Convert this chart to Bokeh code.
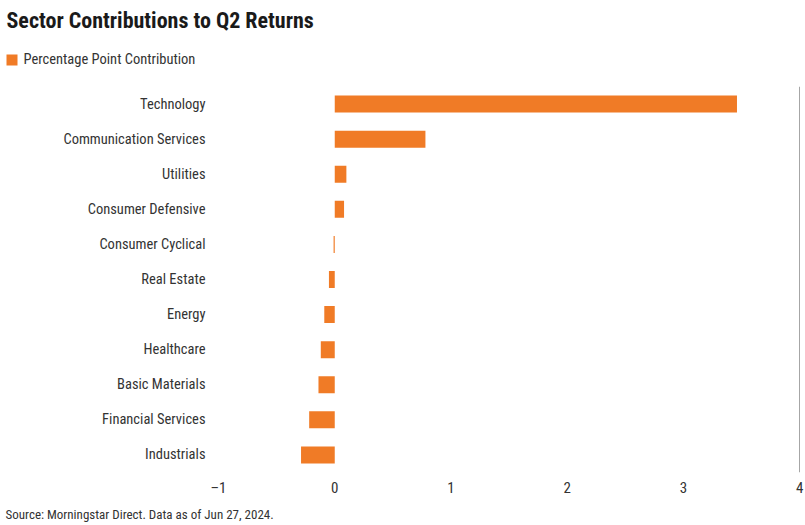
from bokeh.plotting import figure
from bokeh.layouts import column
from bokeh.models import Range1d, FactorRange, Label, FixedTicker, BoxAnnotation, ColumnDataSource
from bokeh.embed import file_html
from bokeh.resources import INLINE

sectors = ["Technology", "Communication Services", "Utilities", "Consumer Defensive",
           "Consumer Cyclical", "Real Estate", "Energy", "Healthcare", "Basic Materials",
           "Financial Services", "Industrials"]
contrib = [3.46, 0.78, 0.10, 0.08, -0.01, -0.05, -0.09, -0.12, -0.14, -0.22, -0.29]
x_ticks = [-1, 0, 1, 2, 3, 4]
x_tick_labels = {-1: "\u20131", 0: "0", 1: "1", 2: "2", 3: "3", 4: "4"}

title_text = "Sector Contributions to Q2 Returns"
legend_text = "Percentage Point Contribution"
source_text = "Source: Morningstar Direct. Data as of Jun 27, 2024."

FONT = "Roboto Condensed"
ORANGE = "#F07B26"
TXT = "#333333"
W = 805
TOP_H, MAIN_H, BOT_H = 86, 414, 25


def blank(height):
    f = figure(width=W, height=height, output_backend="svg", toolbar_location=None,
               x_range=Range1d(0, 1), y_range=Range1d(0, 1),
               x_axis_type=None, y_axis_type=None, min_border=0, frame_align=False)
    f.outline_line_color = None
    f.grid.visible = False
    return f


# header: title + legend
top = blank(TOP_H)
top.add_layout(Label(x=6, y=TOP_H - 20, x_units="screen", y_units="screen", text=title_text,
                     text_font=FONT, text_font_size="22px", text_font_style="bold",
                     text_color="#1a1a1a", text_baseline="alphabetic"))
top.add_layout(BoxAnnotation(left=6, right=17, top=TOP_H - 54, bottom=TOP_H - 65,
                             left_units="screen", right_units="screen",
                             top_units="screen", bottom_units="screen",
                             fill_color=ORANGE, fill_alpha=1, line_color=None))
top.add_layout(Label(x=23, y=TOP_H - 59, x_units="screen", y_units="screen", text=legend_text,
                     text_font=FONT, text_font_size="14.5px", text_color=TXT,
                     text_baseline="alphabetic"))

# main chart
src = ColumnDataSource(dict(sector=sectors, value=contrib))
p = figure(width=W, height=MAIN_H, output_backend="svg", toolbar_location=None,
           x_range=Range1d(-1, 4.015), y_range=FactorRange(*reversed(sectors)),
           min_border_left=218, min_border_right=4, min_border_top=0, min_border_bottom=28)
p.outline_line_color = None
p.hbar(y="sector", left=0, right="value", height=0.485, source=src,
       fill_color=ORANGE, line_color=None)

p.xaxis.ticker = FixedTicker(ticks=x_ticks)
p.xaxis.major_label_overrides = x_tick_labels
p.xaxis.axis_line_color = None
p.xaxis.major_tick_line_color = None
p.xaxis.major_tick_out = 0
p.xaxis.major_tick_in = 0
p.xaxis.minor_tick_line_color = None
p.xaxis.major_label_text_font = FONT
p.xaxis.major_label_text_font_size = "15px"
p.xaxis.major_label_text_color = TXT
p.xaxis.major_label_standoff = 6

p.yaxis.axis_line_color = None
p.yaxis.major_tick_line_color = None
p.yaxis.major_tick_out = 0
p.yaxis.major_tick_in = 0
p.yaxis.minor_tick_line_color = None
p.yaxis.major_label_text_font = FONT
p.yaxis.major_label_text_font_size = "14.5px"
p.yaxis.major_label_text_color = TXT
p.yaxis.major_label_standoff = 13

p.ygrid.grid_line_color = None
p.xgrid.ticker = FixedTicker(ticks=[4])
p.xgrid.grid_line_color = "#a6a6a6"
p.xgrid.grid_line_width = 1

# footer: source note
bot = blank(BOT_H)
bot.add_layout(Label(x=5, y=BOT_H - 14, x_units="screen", y_units="screen", text=source_text,
                     text_font=FONT, text_font_size="13px", text_color=TXT,
                     text_baseline="alphabetic"))

layout = column(top, p, bot, spacing=0)
open("out.html", "w").write(file_html(layout, INLINE))
